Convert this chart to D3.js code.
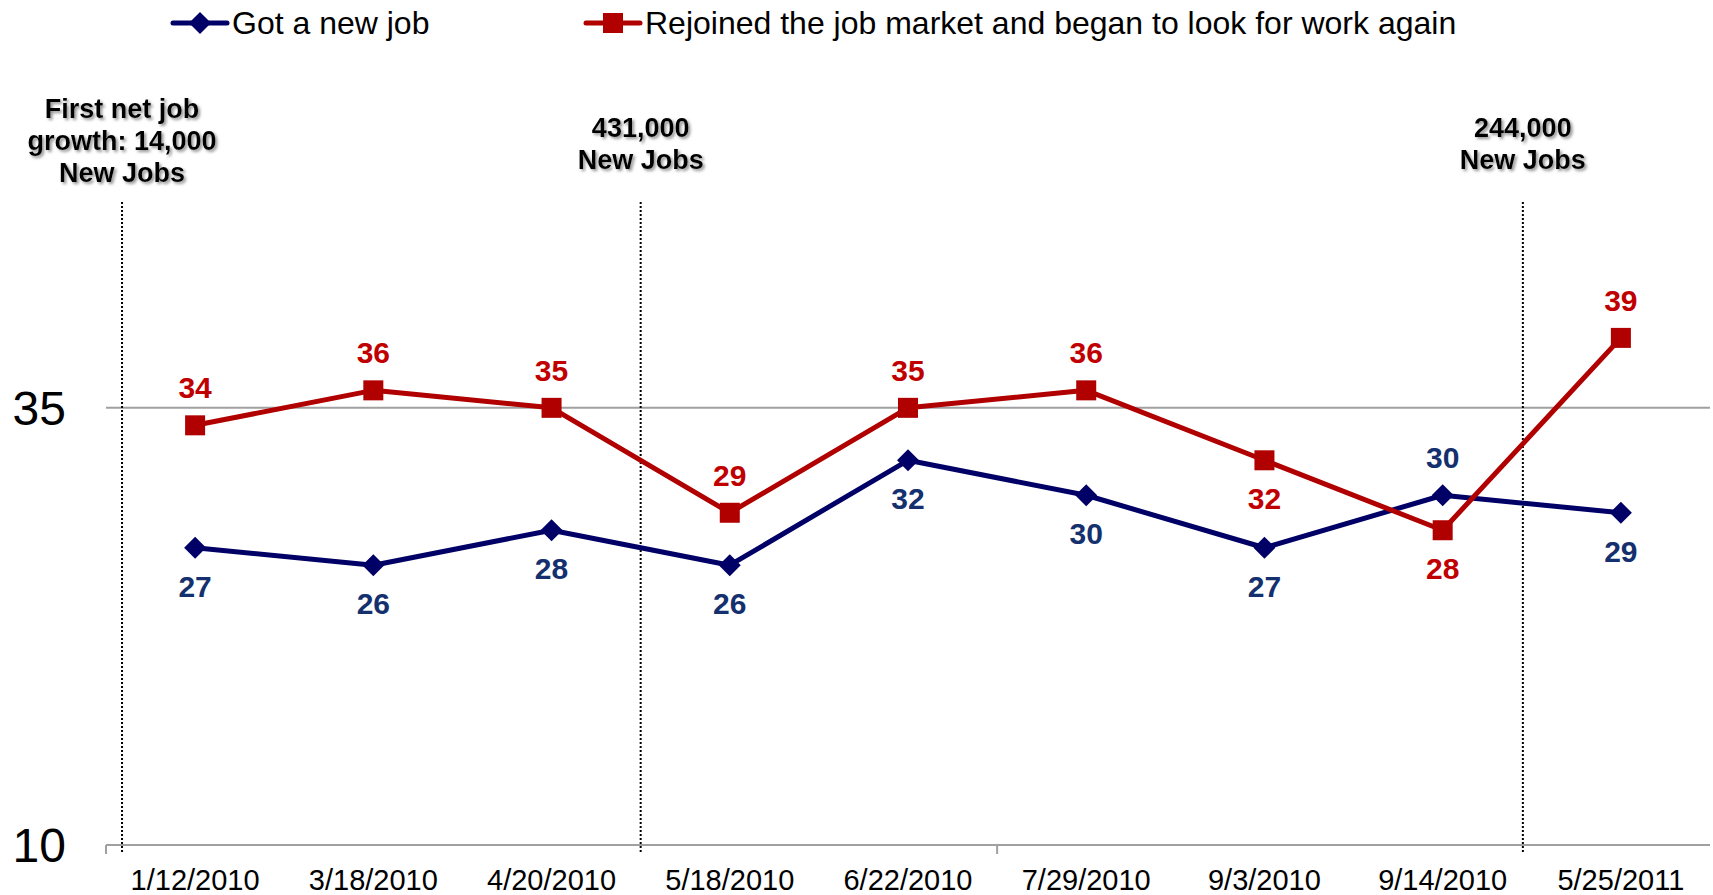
<!DOCTYPE html>
<html>
<head>
<meta charset="utf-8">
<script src="https://cdn.jsdelivr.net/npm/d3@7"></script>
<style>
  body { margin: 0; background: #fff; }
  svg { display: block; font-family: "Liberation Sans", Arial, sans-serif; }
</style>
</head>
<body>
<svg id="chart" width="1713" height="895"></svg>
<script>
// data
const dates = ["1/12/2010", "3/18/2010", "4/20/2010", "5/18/2010", "6/22/2010",
               "7/29/2010", "9/3/2010", "9/14/2010", "5/25/2011"];
const newJob = [27, 26, 28, 26, 32, 30, 27, 30, 29];
const rejoined = [34, 36, 35, 29, 35, 36, 32, 28, 39];
const newJobLabelSide = ["below", "below", "below", "below", "below", "below", "below", "above", "below"];
const rejoinedLabelSide = ["above", "above", "above", "above", "above", "above", "below", "below", "above"];
const yTicks = [10, 35];
// annotations sit between categories (position in category units from the left edge)
const eventPos = [0.09, 3, 7.95];
const eventText = [["First net job", "growth: 14,000", "New Jobs"], ["431,000", "New Jobs"], ["244,000", "New Jobs"]];
const eventTop = [109, 128, 128];

const blue = "#000066", blueText = "#14306e";
const red = "#b00000", redText = "#c00000";

const svg = d3.select("#chart");

const plotLeft = 106, plotRight = 1710;
const x = d3.scaleBand().domain(dates).range([plotLeft, plotRight]);
const cx = d => x(d) + x.bandwidth() / 2;
const y = d3.scaleLinear().domain([10, 47]).range([845, 198]);

var defs = svg.append("defs");
var f = defs.append("filter").attr("id", "shadow")
    .attr("x", "-10%").attr("y", "-30%").attr("width", "130%").attr("height", "170%");
f.append("feDropShadow").attr("dx", 2).attr("dy", 2).attr("stdDeviation", 1.5)
    .attr("flood-color", "#777").attr("flood-opacity", 0.8);

// gridline at 35
svg.append("line")
    .attr("x1", plotLeft).attr("x2", plotRight)
    .attr("y1", y(35)).attr("y2", y(35))
    .attr("stroke", "#a0a0a0").attr("stroke-width", 2);

// bottom axis
svg.append("line")
    .attr("x1", plotLeft).attr("x2", plotRight)
    .attr("y1", y(10)).attr("y2", y(10))
    .attr("stroke", "#a0a0a0").attr("stroke-width", 2);

svg.selectAll(".xtick")
    .data([0, 5])
    .enter().append("line")
        .attr("class", "xtick")
        .attr("x1", i => plotLeft + i * x.bandwidth())
        .attr("x2", i => plotLeft + i * x.bandwidth())
        .attr("y1", y(10)).attr("y2", y(10) + 9)
        .attr("stroke", "#a0a0a0").attr("stroke-width", 2);

svg.selectAll(".xlabel")
    .data(dates)
    .enter().append("text")
        .attr("class", "xlabel")
        .attr("x", cx)
        .attr("y", 890)
        .attr("text-anchor", "middle")
        .attr("font-size", 29)
        .attr("fill", "#000")
        .text(d => d);

svg.selectAll(".ylabel")
    .data(yTicks)
    .enter().append("text")
        .attr("class", "ylabel")
        .attr("x", 66)
        .attr("y", d => y(d) + 17)
        .attr("text-anchor", "end")
        .attr("font-size", 48)
        .attr("fill", "#000")
        .text(d => d);

// event lines
svg.selectAll(".event")
    .data(eventPos)
    .enter().append("line")
        .attr("class", "event")
        .attr("x1", d => plotLeft + d * x.bandwidth())
        .attr("x2", d => plotLeft + d * x.bandwidth())
        .attr("y1", 202).attr("y2", y(10) + 8)
        .attr("stroke", "#000").attr("stroke-width", 2)
        .attr("stroke-dasharray", "2,2");

eventText.forEach(function(lines, i) {
    var t = svg.append("text")
        .attr("text-anchor", "middle")
        .attr("font-size", 27)
        .attr("font-weight", "bold")
        .attr("fill", "#000")
        .attr("filter", "url(#shadow)");
    lines.forEach(function(s, j) {
        t.append("tspan")
            .attr("x", plotLeft + eventPos[i] * x.bandwidth())
            .attr("y", eventTop[i] + 9 + j * 32)
            .text(s);
    });
});

// series
const series = [
    {name: "Got a new job", values: newJob, side: newJobLabelSide, color: blue, textColor: blueText, marker: "diamond"},
    {name: "Rejoined the job market and began to look for work again", values: rejoined, side: rejoinedLabelSide, color: red, textColor: redText, marker: "square"}
];

const line = d3.line().x((d, i) => cx(dates[i])).y(d => y(d));

function marker(g, type, color) {
    if (type === "diamond") {
        g.append("path").attr("d", "M0,-11L11,0L0,11L-11,0Z").attr("fill", color);
    } else {
        g.append("rect").attr("x", -10).attr("y", -10).attr("width", 20).attr("height", 20).attr("fill", color);
    }
}

series.forEach(function(s) {
    svg.append("path")
        .datum(s.values)
        .attr("d", line)
        .attr("fill", "none")
        .attr("stroke", s.color)
        .attr("stroke-width", 5)
        .attr("stroke-linejoin", "round");

    svg.selectAll(null)
        .data(s.values)
        .enter().append("g")
            .attr("transform", (d, i) => "translate(" + cx(dates[i]) + "," + y(d) + ")")
            .each(function() { marker(d3.select(this), s.marker, s.color); });

    svg.selectAll(null)
        .data(s.values)
        .enter().append("text")
            .attr("x", (d, i) => cx(dates[i]))
            .attr("y", (d, i) => y(d) + (s.side[i] === "above" ? -27 : 49))
            .attr("text-anchor", "middle")
            .attr("font-size", 30)
            .attr("font-weight", "bold")
            .attr("fill", s.textColor)
            .text(d => d);
});

// legend
const legendX = [173, 586];
const legend = svg.selectAll(".legend")
    .data(series)
    .enter().append("g")
        .attr("class", "legend")
        .attr("transform", (d, i) => "translate(" + legendX[i] + ",23)");

legend.append("line")
    .attr("x1", 0).attr("x2", 54)
    .attr("stroke", d => d.color)
    .attr("stroke-width", 5)
    .attr("stroke-linecap", "round");

legend.append("g")
    .attr("transform", "translate(27,0)")
    .each(function(d) { marker(d3.select(this), d.marker, d.color); });

legend.append("text")
    .attr("x", 59)
    .attr("y", 11)
    .attr("font-size", 32)
    .attr("fill", "#000")
    .text(d => d.name);
</script>
</body>
</html>
